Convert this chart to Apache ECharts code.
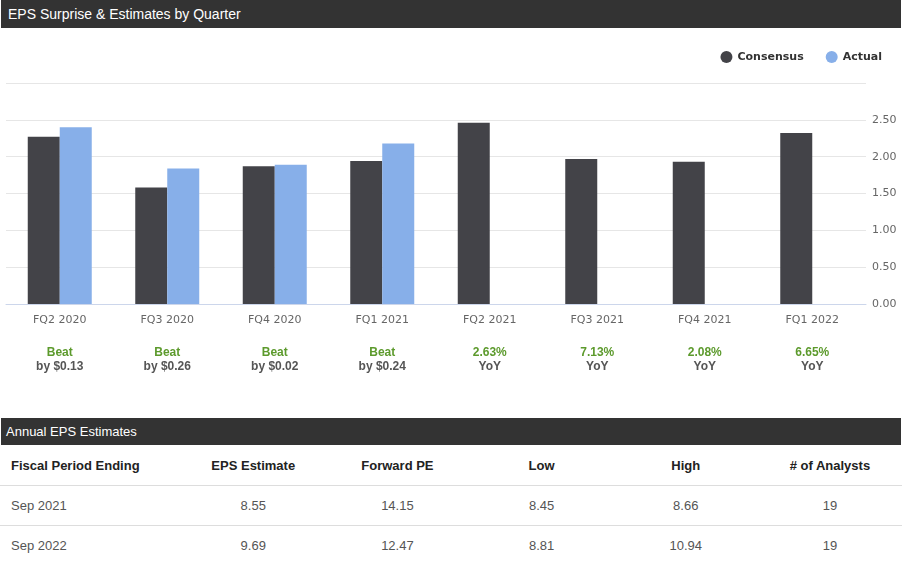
<!DOCTYPE html>
<html>
<head>
<meta charset="utf-8">
<script src="https://cdn.jsdelivr.net/npm/echarts@6/dist/echarts.min.js"></script>
<style>
  body { margin: 0; width: 902px; background: #fff; font-family: "Liberation Sans", Arial, sans-serif; }
  .band { margin: 0 1px; height: 27px; line-height: 27px; background: #333; color: #fff; padding-left: 7px; }
  .band.title { font-size: 14px; height: 28px; line-height: 28px; }
  .band.sub { font-size: 13px; padding-left: 5px; }
  #chart { width: 902px; height: 390px; }
  table { width: 902px; border-collapse: collapse; font-size: 13px; }
  th { font-weight: bold; color: #222; height: 40px; border-bottom: 1px solid #ddd; }
  td { color: #555; height: 39px; }
  tr.first td { border-bottom: 1px solid #ddd; }
  th, td { text-align: center; padding: 0; width: 144px; }
  th:first-child, td:first-child { text-align: left; padding-left: 11px; width: 170px; }
</style>
</head>
<body>
<div class="band title">EPS Surprise &amp; Estimates by Quarter</div>
<div id="chart"></div>
<div class="band sub">Annual EPS Estimates</div>
<table id="annual"></table>
<script>
const quarters = ['FQ2 2020', 'FQ3 2020', 'FQ4 2020', 'FQ1 2021', 'FQ2 2021', 'FQ3 2021', 'FQ4 2021', 'FQ1 2022'];
const consensus = [2.27, 1.58, 1.87, 1.94, 2.46, 1.97, 1.93, 2.32];
const actual = [2.40, 1.84, 1.89, 2.18, null, null, null, null];
const surpriseTop = ['Beat', 'Beat', 'Beat', 'Beat', '2.63%', '7.13%', '2.08%', '6.65%'];
const surpriseBottom = ['by $0.13', 'by $0.26', 'by $0.02', 'by $0.24', 'YoY', 'YoY', 'YoY', 'YoY'];

const tableHead = ['Fiscal Period Ending', 'EPS Estimate', 'Forward PE', 'Low', 'High', '# of Analysts'];
const periods = ['Sep 2021', 'Sep 2022'];
const epsEstimate = ['8.55', '9.69'];
const forwardPE = ['14.15', '12.47'];
const low = ['8.45', '8.81'];
const high = ['8.66', '10.94'];
const analysts = ['19', '19'];

// table below the chart
const table = document.getElementById('annual');
let html = '<tr>' + tableHead.map(h => `<th>${h}</th>`).join('') + '</tr>';
periods.forEach((p, i) => {
  const cells = [p, epsEstimate[i], forwardPE[i], low[i], high[i], analysts[i]];
  html += `<tr class="${i === 0 ? 'first' : ''}">` + cells.map(c => `<td>${c}</td>`).join('') + '</tr>';
});
table.innerHTML = html;

const chart = echarts.init(document.getElementById('chart'));
chart.setOption({
  animation: false,
  textStyle: { fontFamily: 'DejaVu Sans' },
  legend: {
    data: ['Consensus', 'Actual'],
    right: 15,
    top: 18,
    icon: 'circle',
    itemWidth: 12,
    itemHeight: 12,
    itemGap: 22,
    textStyle: { fontFamily: 'DejaVu Sans', fontSize: 11, fontWeight: 'bold', color: '#333' }
  },
  grid: { left: 6, right: 36, top: 55, bottom: 114 },
  xAxis: {
    type: 'category',
    data: quarters,
    axisLine: { lineStyle: { color: '#ccd6eb' } },
    axisTick: { alignWithLabel: true, length: 10, lineStyle: { color: '#ccd6eb' } },
    axisLabel: {
      margin: 8,
      interval: 0,
      formatter: (v, i) => `{cat|${v}}\n{gap|}\n{top|${surpriseTop[i]}}\n{bot|${surpriseBottom[i]}}`,
      rich: {
        cat: { fontFamily: 'DejaVu Sans', fontSize: 11, color: '#666', lineHeight: 16 },
        gap: { lineHeight: 17 },
        top: { fontFamily: 'Liberation Sans', fontSize: 12, fontWeight: 'bold', color: '#5c9a2c', lineHeight: 15 },
        bot: { fontFamily: 'Liberation Sans', fontSize: 12, fontWeight: 'bold', color: '#555', lineHeight: 14 }
      }
    }
  },
  yAxis: {
    type: 'value',
    position: 'right',
    min: 0,
    max: 3,
    interval: 0.5,
    axisLabel: {
      margin: 6,
      color: '#666',
      fontSize: 11,
      formatter: v => (v === 3 ? '' : v.toFixed(2))
    },
    splitLine: { lineStyle: { color: '#e6e6e6' } }
  },
  series: [
    { name: 'Consensus', type: 'bar', data: consensus, barWidth: 32, barGap: '0%', itemStyle: { color: '#434348' } },
    { name: 'Actual', type: 'bar', data: actual, barWidth: 32, itemStyle: { color: '#87afe9' } }
  ]
});
</script>
</body>
</html>
